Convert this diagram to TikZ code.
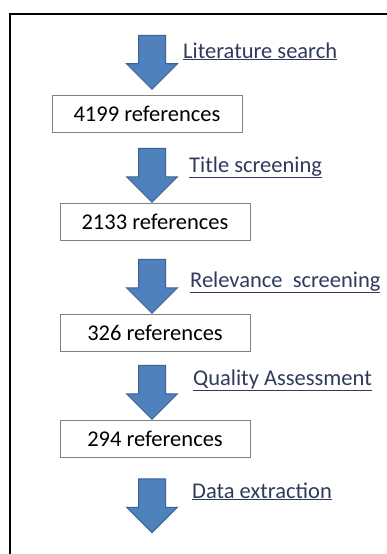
\documentclass[tikz,border=0pt]{standalone}
\usepackage{fontspec}
\setmainfont{Carlito}
\usetikzlibrary{shapes.arrows}
\definecolor{arrowfill}{HTML}{4F81BD}
\definecolor{arrowline}{HTML}{3A6394}
\definecolor{labelblue}{HTML}{2F3B5C}
\definecolor{boxline}{HTML}{7F7F7F}
\begin{document}
\begin{tikzpicture}[x=1pt, y=-1pt,
    refbox/.style={rectangle, draw=boxline, line width=0.8pt, minimum width=190pt, minimum height=37pt, inner sep=0pt, font=\fontsize{22.5}{26}\selectfont},
    downarrow/.style={single arrow, shape border rotate=270, draw=arrowline, fill=arrowfill, line width=1pt, minimum height=54pt, inner sep=13pt, single arrow head extend=12pt},
    steplabel/.style={anchor=base west, inner sep=0pt, text=labelblue, font=\fontsize{22.5}{26}\selectfont}]
    \useasboundingbox (0,0) rectangle (387,554) ;
    \clip (0,0) rectangle (387,554) ;
    \draw[line width=2.5pt] (10,14) rectangle (420,590) ;

    \node[downarrow] (arrow_search) at (152,55.5) {} ;
    \node[steplabel] (search) at (183,58) {\underline{Literature search}} ;
    \node[refbox] (refs_4199) at (147,114) {4199 references} ;

    \node[downarrow] (arrow_title) at (152,168.5) {} ;
    \node[steplabel] (title) at (189,172) {\underline{Title screening}} ;
    \node[refbox] (refs_2133) at (155,221.5) {2133 references} ;

    \node[downarrow] (arrow_relevance) at (152,279.5) {} ;
    \node[steplabel] (relevance) at (190,287) {\underline{Relevance\ \ screening}} ;
    \node[refbox] (refs_326) at (155,332.5) {326 references} ;

    \node[downarrow] (arrow_quality) at (152,385.5) {} ;
    \node[steplabel] (quality) at (193,385) {\underline{Quality Assessment}} ;
    \node[refbox] (refs_294) at (155,438.5) {294 references} ;

    \node[downarrow] (arrow_data) at (152,499) {} ;
    \node[steplabel] (data) at (192,498) {\underline{Data extraction}} ;
\end{tikzpicture}
\end{document}
